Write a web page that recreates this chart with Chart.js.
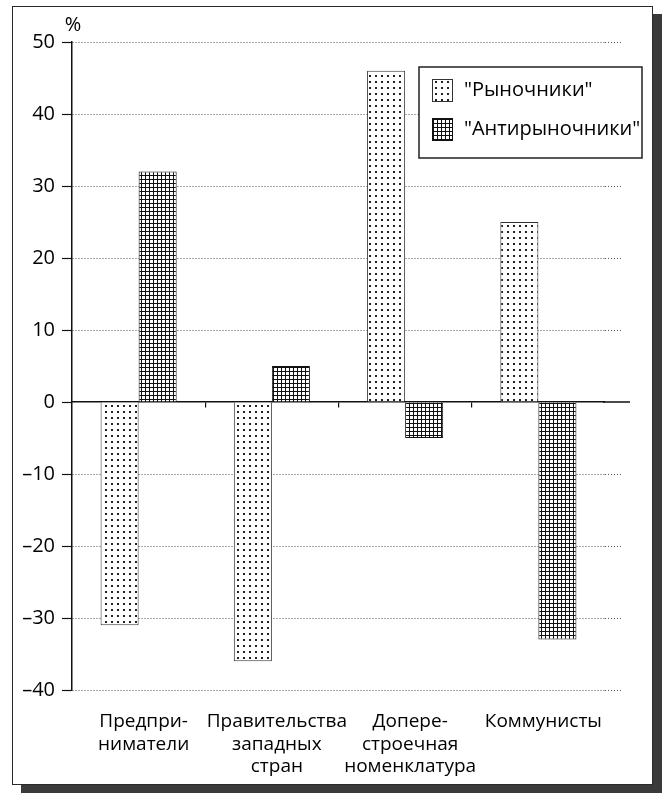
<!DOCTYPE html>
<html>
<head>
<meta charset="utf-8">
<script src="https://cdn.jsdelivr.net/npm/chart.js@4"></script>
<style>
  html, body { margin: 0; padding: 0; background: #fff; }
  #frame {
    position: absolute; left: 12px; top: 6px;
    width: 641px; height: 779px; box-sizing: border-box;
    border: 1px solid #2a2a2a; box-shadow: 9px 8px 0 #3a3a3a; background: #fff;
  }
  canvas { display: block; }
</style>
</head>
<body>
<div id="frame"><canvas id="chart" width="639" height="777"></canvas></div>
<script>
// data
const categories = [
  ['Предпри-', 'ниматели'],
  ['Правительства', 'западных', 'стран'],
  ['Допере-', 'строечная', 'номенклатура'],
  'Коммунисты'
];
const marketSupporters = [-31, -36, 46, 25];
const marketOpponents = [32, 5, -5, -33];
const seriesNames = ['"Рыночники"', '"Антирыночники"'];
const yMin = -40;
const yMax = 50;
const yStep = 10;

const FONT = '"Open Sans", "DejaVu Sans", sans-serif';
const canvas = document.getElementById('chart');
const ctx = canvas.getContext('2d');

// white with small black dots
function dotPattern() {
  const t = document.createElement('canvas');
  t.width = 6; t.height = 6;
  const g = t.getContext('2d');
  g.fillStyle = '#fff'; g.fillRect(0, 0, 6, 6);
  g.fillStyle = '#222'; g.fillRect(2, 2, 2, 2);
  return ctx.createPattern(t, 'repeat');
}

// fine square grid
function gridPattern() {
  const t = document.createElement('canvas');
  t.width = 4; t.height = 4;
  const g = t.getContext('2d');
  g.fillStyle = '#fff'; g.fillRect(0, 0, 4, 4);
  g.fillStyle = '#111';
  g.fillRect(0, 0, 4, 1);
  g.fillRect(0, 0, 1, 4);
  return ctx.createPattern(t, 'repeat');
}

// dotted grid lines run a bit past the last category, zero line further
const gridTail = {
  id: 'gridTail',
  beforeDatasetsDraw(chart) {
    const { ctx, chartArea, scales: { y } } = chart;
    ctx.save();
    ctx.lineWidth = 1;
    ctx.strokeStyle = '#555';
    ctx.setLineDash([1, 2]);
    y.ticks.forEach(t => {
      if (t.value === 0) return;
      const py = Math.round(y.getPixelForValue(t.value)) + 0.5;
      ctx.beginPath();
      ctx.moveTo(chartArea.right, py);
      ctx.lineTo(chartArea.right + 17, py);
      ctx.stroke();
    });
    ctx.setLineDash([]);
    ctx.strokeStyle = '#111';
    ctx.lineWidth = 1.5;
    const z = y.getPixelForValue(0);
    ctx.beginPath();
    ctx.moveTo(chartArea.right - 2, z);
    ctx.lineTo(chartArea.right + 25, z);
    ctx.stroke();

    // unit sign above the axis
    ctx.fillStyle = '#000';
    ctx.font = '20px ' + FONT;
    ctx.textAlign = 'center';
    ctx.textBaseline = 'middle';
    ctx.fillText('%', chartArea.left + 1, chartArea.top - 17);
    ctx.restore();
  }
};

// boxed legend inside the plot
const legendBox = {
  id: 'legendBox',
  afterDatasetsDraw(chart) {
    const { ctx, chartArea } = chart;
    const x0 = chartArea.right - 186, y0 = chartArea.top + 25;
    ctx.save();
    ctx.fillStyle = '#fff';
    ctx.fillRect(x0, y0, 223, 91);
    ctx.strokeStyle = '#222';
    ctx.lineWidth = 1.5;
    ctx.strokeRect(x0, y0, 223, 91);
    chart.data.datasets.forEach((ds, i) => {
      const sy = y0 + 12 + i * 39;
      ctx.fillStyle = ds.backgroundColor;
      ctx.fillRect(x0 + 13, sy, 20, 22);
      ctx.strokeStyle = ds.borderColor;
      ctx.lineWidth = 1;
      ctx.strokeRect(x0 + 13.5, sy + 0.5, 20, 22);
      ctx.fillStyle = '#000';
      ctx.font = '20px ' + FONT;
      ctx.textAlign = 'left';
      ctx.textBaseline = 'middle';
      ctx.fillText(ds.label, x0 + 45, sy + 11);
    });
    ctx.restore();
  }
};

new Chart(ctx, {
  type: 'bar',
  data: {
    labels: categories,
    datasets: [
      {
        label: seriesNames[0],
        data: marketSupporters,
        backgroundColor: dotPattern(),
        borderColor: '#333',
        borderWidth: 1
      },
      {
        label: seriesNames[1],
        data: marketOpponents,
        backgroundColor: gridPattern(),
        borderColor: '#111',
        borderWidth: 1
      }
    ]
  },
  options: {
    responsive: false,
    animation: false,
    datasets: { bar: { barPercentage: 1, categoryPercentage: 0.571 } },
    layout: { padding: { top: 35, right: 47, bottom: 0, left: 0 } },
    plugins: {
      legend: { display: false },
      tooltip: { enabled: false }
    },
    scales: {
      x: {
        position: { y: 0 },
        offset: true,
        ticks: { display: false },
        grid: {
          offset: true,
          drawOnChartArea: false,
          drawTicks: true,
          tickLength: 5,
          lineWidth: 1.2,
          // only the marks between categories, none at the two ends
          color: c => (c.type !== 'tick' || c.index === 0) ? 'rgba(0,0,0,0)' : '#111'
        },
        border: { display: true, color: '#111', width: 1.5 }
      },
      xl: {
        type: 'category',
        position: 'bottom',
        offset: true,
        grid: { display: false, drawTicks: false },
        border: { display: false },
        ticks: {
          color: '#000',
          font: { family: FONT, size: 19, lineHeight: 1.2 },
          padding: 20,
          maxRotation: 0,
          autoSkip: false,
          labelOffset: 5
        },
        afterFit: s => { s.height = 94; }
      },
      y: {
        min: yMin,
        max: yMax,
        ticks: {
          stepSize: yStep,
          color: '#000',
          padding: 7,
          font: { family: FONT, size: 20 },
          callback: v => v < 0 ? '–' + Math.abs(v) : String(v)
        },
        grid: {
          color: c => (c.tick && c.tick.value === 0) ? 'rgba(0,0,0,0)' : '#555',
          lineWidth: 1,
          tickLength: 10,
          tickColor: '#111',
          tickWidth: 1.2
        },
        border: { display: true, color: '#111', width: 1.5, dash: [1, 2] },
        afterFit: s => { s.width = 59; }
      }
    }
  },
  plugins: [gridTail, legendBox]
});
</script>
</body>
</html>
